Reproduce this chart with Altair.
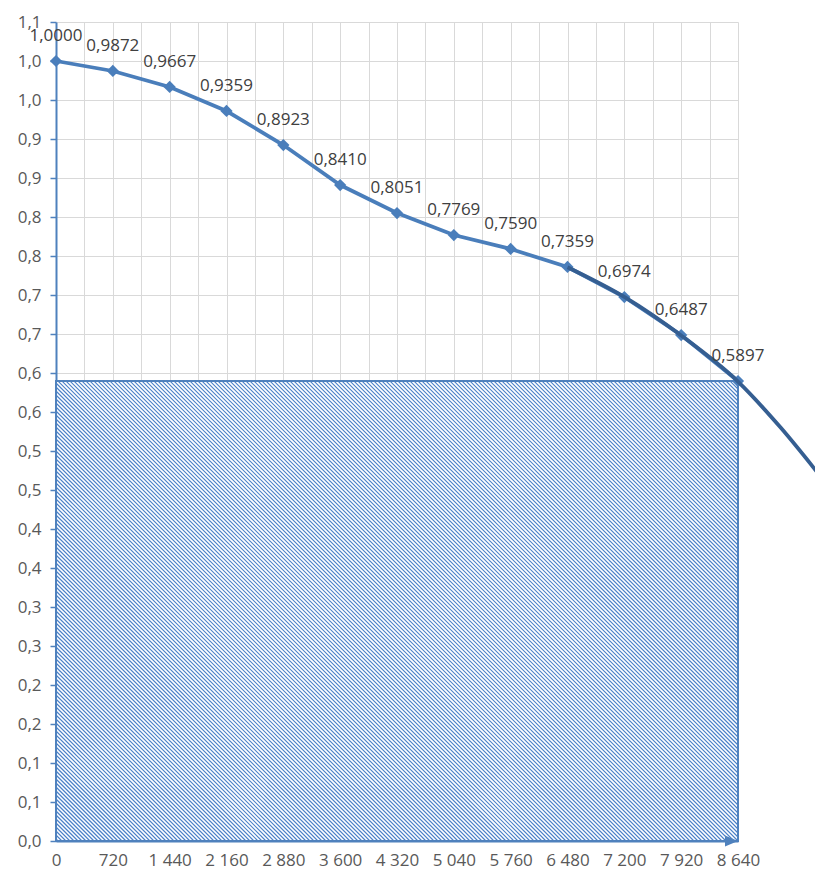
import altair as alt
import pandas as pd

# ---- data ----
days = [0, 720, 1440, 2160, 2880, 3600, 4320, 5040, 5760, 6480, 7200, 7920, 8640]
values = [1.0000, 0.9872, 0.9667, 0.9359, 0.8923, 0.8410, 0.8051,
          0.7769, 0.7590, 0.7359, 0.6974, 0.6487, 0.5897]

trend_x = [6480, 7200, 7920, 8640, 9180, 9720]
trend_y = [0.7356, 0.6975, 0.6480, 0.5890, 0.5300, 0.4630]

x_ticks = list(range(0, 8641, 360))
y_ticks = [round(i * 0.05, 2) for i in range(22)]

# ---- styling ----
BLUE = "#4A7EBB"
RECT_BLUE = "#4F81BD"
HATCH_BLUE = "#4A80C8"
DARK = "#355E91"
GRID = "#D9D9D9"
FONT = "Open Sans"
W, H = 682, 819
X_MAX = 8640
Y_MAX = 1.05

df = pd.DataFrame({"x": days, "v": values})
tdf = pd.DataFrame({"x": trend_x, "v": trend_y})
rdf = pd.DataFrame({"x": [days[0]], "x2": [days[-1]], "y": [0.0], "y2": [values[-1]]})
adf = pd.DataFrame({"x": [days[-1]], "y": [0.0]})

# diagonal hatch ("\" direction) inside the rectangle, spaced 4 px horizontally
rw = W * (days[-1] - days[0]) / X_MAX
rh = H * values[-1] / Y_MAX
step = 4.0
hatch_rows = []
c = -rh + step / 2
while c < rw:
    if c >= 0:
        u0, w0 = c, 0.0
    else:
        u0, w0 = 0.0, -c
    if c + rh <= rw:
        u1, w1 = c + rh, rh
    else:
        u1, w1 = rw, rw - c
    hatch_rows.append({
        "x": days[0] + u0 * X_MAX / W, "y": (rh - w0) * Y_MAX / H,
        "x2": days[0] + u1 * X_MAX / W, "y2": (rh - w1) * Y_MAX / H,
    })
    c += step
hdf = pd.DataFrame(hatch_rows)

xscale = alt.Scale(domain=[0, X_MAX], nice=False, zero=False)
yscale = alt.Scale(domain=[0, Y_MAX], nice=False)

xaxis = alt.Axis(values=x_ticks, grid=True, gridColor=GRID, gridWidth=1,
                 ticks=False, tickSize=0, domainColor=RECT_BLUE, domainWidth=2,
                 labelExpr="datum.value % 720 == 0 ? replace(format(datum.value, ','), ',', ' ') : ''",
                 labelFont=FONT, labelFontSize=17, labelColor="#595959",
                 labelPadding=11, labelFlush=False, labelOverlap=False, labelBound=False,
                 title=None)
yaxis = alt.Axis(values=y_ticks, grid=True, gridColor=GRID, gridWidth=1,
                 ticks=True, tickSize=6, tickColor=RECT_BLUE, tickWidth=1.5,
                 domainColor=RECT_BLUE, domainWidth=2,
                 labelExpr="replace(format(datum.value + 1e-9, '.1f'), '.', ',')",
                 labelFont=FONT, labelFontSize=17, labelColor="#595959",
                 labelPadding=9, labelFlush=False, labelOverlap=False, labelBound=False,
                 title=None)

X = lambda f: alt.X(f, scale=xscale, axis=xaxis)
Y = lambda f: alt.Y(f, scale=yscale, axis=yaxis)

rect = alt.Chart(rdf).mark_rect(fill="white", stroke=RECT_BLUE, strokeWidth=2).encode(
    x=X("x:Q"), x2="x2:Q", y=Y("y:Q"), y2="y2:Q")

hatch = alt.Chart(hdf).mark_rule(color=HATCH_BLUE, strokeWidth=1.15, opacity=1).encode(
    x=X("x:Q"), x2="x2:Q", y=Y("y:Q"), y2="y2:Q")

rect_edge = alt.Chart(rdf).mark_rect(fill=None, stroke=RECT_BLUE, strokeWidth=2).encode(
    x=X("x:Q"), x2="x2:Q", y=Y("y:Q"), y2="y2:Q")

line = alt.Chart(df).mark_line(color=BLUE, strokeWidth=3.8).encode(
    x=X("x:Q"), y=Y("v:Q"))

pts = alt.Chart(df).mark_point(shape="diamond", filled=True, size=150, color=BLUE,
                                opacity=1).encode(x=X("x:Q"), y=Y("v:Q"))

trend = alt.Chart(tdf).mark_line(color=DARK, strokeWidth=3.8, interpolate="monotone",
                                 clip=False).encode(x=X("x:Q"), y=Y("v:Q"))

labels = alt.Chart(df).transform_calculate(
    label="replace(format(datum.v, '.4f'), '.', ',')"
).mark_text(font=FONT, fontSize=17, color="#404040", align="center",
            baseline="middle", dy=-25).encode(x=X("x:Q"), y=Y("v:Q"), text="label:N")

arrow = alt.Chart(adf).mark_point(shape="M-1,-0.85L1,0L-1,0.85Z", filled=True, size=169,
                                  color=RECT_BLUE, opacity=1, xOffset=-6.5).encode(
    x=X("x:Q"), y=Y("y:Q"))

chart = alt.layer(rect, hatch, rect_edge, line, pts, trend, labels, arrow).properties(
    width=W, height=H,
    autosize=alt.AutoSizeParams(type="none"),
    padding={"left": 48, "top": 14, "right": 77, "bottom": 36},
).configure_view(stroke=None)

chart.save("out.html", embed_options={"renderer": "svg", "actions": False})
